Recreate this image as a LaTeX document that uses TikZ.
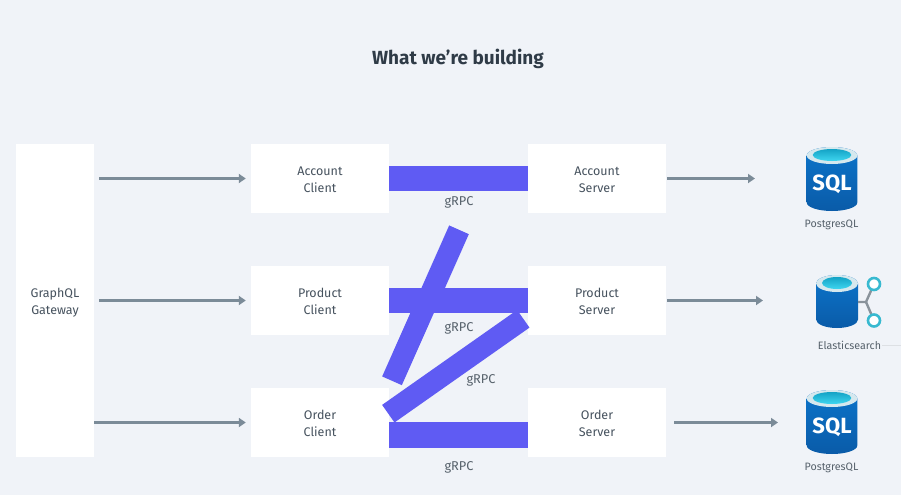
\documentclass[tikz,border=0pt]{standalone}
\usepackage{fontspec}
\setmainfont{Fira Sans}
\usetikzlibrary{arrows.meta,calc}
\definecolor{pagebg}{HTML}{F0F3F8}
\definecolor{barblue}{HTML}{5F5BF3}
\definecolor{arrowgrey}{HTML}{7B8B98}
\definecolor{textgrey}{HTML}{46525E}
\definecolor{taggrey}{HTML}{56616B}
\definecolor{titlegrey}{HTML}{2F3B47}
\definecolor{dbdark}{HTML}{0A5BA8}
\definecolor{dbmid}{HTML}{0C74CA}
\definecolor{dbrim}{HTML}{D5E8EE}
\definecolor{dbcyan}{HTML}{3FD6F0}
\definecolor{dbcyandark}{HTML}{14A3C6}
\definecolor{dbring}{HTML}{38B9D0}
\definecolor{dbfork}{HTML}{8A939B}
\newcommand{\ls}{\rule[-3.1pt]{0pt}{17pt}}
\tikzset{
  whitebox/.style={fill=white,draw=none,minimum width=138pt,minimum height=69pt,align=center,inner sep=0pt,
    font=\fontsize{12.5pt}{17pt}\selectfont,text=textgrey},
  flow/.style={draw=arrowgrey,line width=2.6pt,-{Triangle[length=7pt,width=9pt]}},
  grpcbar/.style={draw=barblue,line width=25.5pt},
  slantbar/.style={draw=barblue,line width=21.5pt},
  tag/.style={font=\fontsize{12.8pt}{14pt}\selectfont,text=taggrey,inner sep=0pt},
  dblabel/.style={font=\fontsize{10.7pt}{12pt}\selectfont,text=taggrey,inner sep=0pt},
}
\newcommand{\dbbody}[5]{% cx, top y, half width, rim half height, bottom y
  \shade[top color=dbmid,bottom color=dbdark]
    ({#1-#3},{#2}) -- ({#1-#3},{#5-#4}) arc[start angle=180,end angle=0,x radius=#3,y radius=#4]
    -- ({#1+#3},{#2}) arc[start angle=0,end angle=-180,x radius=#3,y radius=#4] -- cycle;
  \fill[dbrim] (#1,#2) ellipse[x radius=#3,y radius=#4];
  \shade[top color=dbcyandark,bottom color=dbcyan] (#1,{#2-0.5}) ellipse[x radius={#3-6},y radius={#4-2.5}];
}
\begin{document}
\begin{tikzpicture}[x=1pt,y=-1pt]
\useasboundingbox (0,0) rectangle (901,495);
\fill[pagebg] (0,0) rectangle (901,495);

\node[font=\fontsize{19pt}{23pt}\selectfont\bfseries,text=titlegrey,inner sep=0pt] (title) at (458,58.5) {What we’re building};

\node[whitebox,minimum width=78pt,minimum height=313pt] (gw) at (55,300.5) {\ls GraphQL\\\ls Gateway};

\node[whitebox] (ac) at (320,178.5) {\ls Account\\\ls Client};
\node[whitebox] (pc) at (320,300.5) {\ls Product\\\ls Client};
\node[whitebox] (oc) at (320,422.5) {\ls Order\\\ls Client};
\node[whitebox] (as) at (597,178.5) {\ls Account\\\ls Server};
\node[whitebox] (ps) at (597,300.5) {\ls Product\\\ls Server};
\node[whitebox] (os) at (597,422.5) {\ls Order\\\ls Server};

% gateway to clients
\draw[flow,shorten <=5pt,shorten >=5pt] (gw.east |- ac.west) -- (ac.west);
\draw[flow,shorten <=5pt,shorten >=5pt] (gw.east |- pc.west) -- (pc.west);
\draw[flow,shorten >=5pt] (gw.east |- oc.west) -- (oc.west);

% gRPC bars
\draw[grpcbar] (ac.east) -- (as.west);
\draw[grpcbar] (pc.east) -- (ps.west);
\coordinate (ocb) at ($(oc.east)+(0,12.5)$);
\coordinate (osb) at ($(os.west)+(0,12.5)$);
\draw[grpcbar] (ocb) -- (osb);
\coordinate (a1) at (459,229.8);
\coordinate (a2) at (392,380.8);
\coordinate (b1) at (523.3,318.8);
\coordinate (b2) at (388.3,413.7);
\draw[slantbar] (a1) -- (a2);
\draw[slantbar] (b1) -- (b2);

\node[tag] (g1) at (459,202.5) {gRPC};
\node[tag] (g2) at (459,328.5) {gRPC};
\node[tag] (g3) at (481,380) {gRPC};
\node[tag] (g4) at (459,467.5) {gRPC};

% databases
\dbbody{832}{155.5}{25.3}{8.5}{211}
\node[font=\fontsize{22pt}{24pt}\selectfont\bfseries,text=white,inner sep=0pt] (sql1) at (832,184) {SQL};
\node[dblabel] (l1) at (831.5,224.5) {PostgresQL};

\dbbody{837}{283.5}{21}{8.5}{328}
\draw[dbfork,line width=2.4pt] (858,302) -- (866,302) -- (874,284);
\draw[dbfork,line width=2.4pt] (866,302) -- (874,320.5);
\node[circle,draw=dbring,fill=white,line width=2.6pt,minimum size=12pt,inner sep=0pt] (r1) at (874,284) {};
\node[circle,draw=dbring,fill=white,line width=2.6pt,minimum size=12pt,inner sep=0pt] (r2) at (874,320.5) {};
\node[dblabel] (l2) at (849.5,345.5) {Elasticsearch};
\draw[pagebg!92!black,line width=0.5pt] (l2.east) ++(1,0) -- (901,345.5);

\dbbody{832}{398.5}{25.3}{8.5}{454}
\node[font=\fontsize{22pt}{24pt}\selectfont\bfseries,text=white,inner sep=0pt] (sql3) at (832,427) {SQL};
\node[dblabel] (l3) at (831.5,467.5) {PostgresQL};

% servers to databases
\coordinate (t1) at (755,178.5);
\coordinate (t2) at (763,300.5);
\coordinate (t3) at (778,422.5);
\draw[flow,shorten <=1pt] (as.east) -- (t1);
\draw[flow,shorten <=1pt] (ps.east) -- (t2);
\draw[flow,shorten <=8pt] (os.east) -- (t3);
\end{tikzpicture}
\end{document}
